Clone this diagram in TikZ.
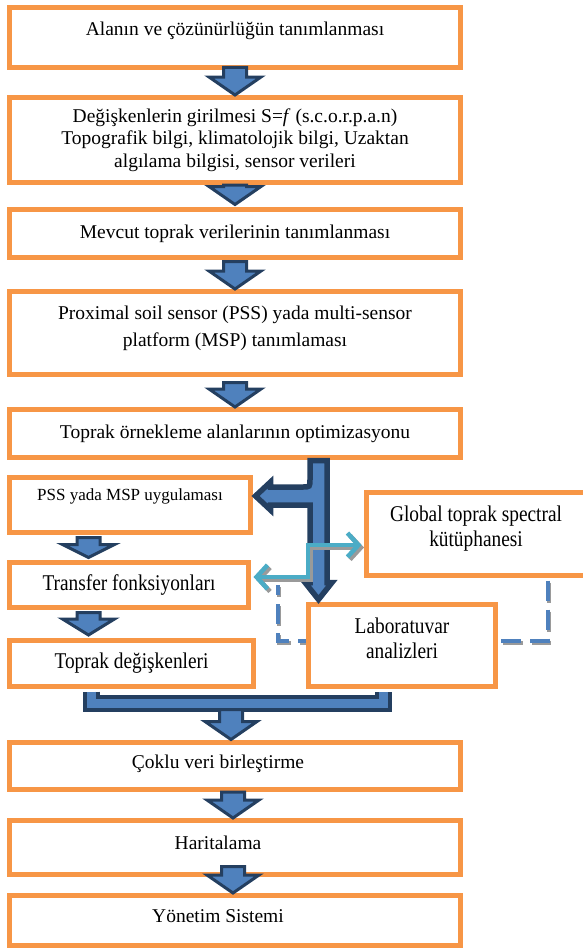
\documentclass[tikz,border=0pt]{standalone}
\usepackage{fontspec}
\setmainfont{Liberation Serif}
\newfontfamily\narrowserif{Liberation Serif}[FakeStretch=0.86]
\usepackage{tikz}
\usetikzlibrary{calc,arrows.meta,backgrounds}
\definecolor{BoxOrange}{HTML}{F79646}
\definecolor{ArrowFill}{HTML}{4F81BD}
\definecolor{ArrowLine}{HTML}{243F60}
\definecolor{LinkTeal}{HTML}{4BACC6}
\definecolor{ShadowGray}{HTML}{9A9A9A}

\newcommand{\mainsize}{\fontsize{19.5}{22.5}\selectfont}
\newcommand{\sidesize}{\narrowserif\fontsize{22.5}{25}\selectfont}
\newcommand{\psssize}{\fontsize{17}{20}\selectfont}

% flèche bloc vers le bas : [#1 longueur de tête], #2 départ, #3 pointe
\newcommand{\flowarrow}[3][18]{%
  \path #2 coordinate (fa-t0) #3 coordinate (fa-t1);
  \coordinate (fa-s) at (fa-t1 |- fa-t0);
  \draw[blockarrow] ($(fa-s)+(-11.5,0)$) -- ($(fa-s)+(11.5,0)$) -- ($(fa-t1)+(11.5,-#1)$)
    -- ($(fa-t1)+(26,-#1)$) -- (fa-t1) -- ($(fa-t1)+(-26,-#1)$) -- ($(fa-t1)+(-11.5,-#1)$) -- cycle;}

\begin{document}
\begin{tikzpicture}[x=1pt, y=-1pt,
    box/.style={draw=BoxOrange, line width=5pt, fill=white, align=center, inner sep=0pt, font=\mainsize},
    sidebox/.style={box, font=\sidesize},
    blockarrow/.style={fill=ArrowFill, draw=ArrowLine, line width=3pt, line join=miter},
    teallink/.style={LinkTeal, line width=4.5pt, line join=miter,
      arrows={Straight Barb[length=11pt,width=24pt]-Straight Barb[length=11pt,width=24pt]}},
    dashlink/.style={ArrowFill, line width=4pt, dash pattern=on 20pt off 9pt}]
  \useasboundingbox (0,0) rectangle (583,950);
  \clip (0,0) rectangle (583,950);

  % Colonne principale
  \node[box, minimum width=451pt, minimum height=60pt, text depth=18pt] (b1) at (235,37.5)
    {Alanın ve çözünürlüğün tanımlanması};
  \node[box, minimum width=451pt, minimum height=85pt] (b2) at (235,140)
    {Değişkenlerin girilmesi S=\textit{f} (s.c.o.r.p.a.n)\\Topografik bilgi, klimatolojik bilgi, Uzaktan\\algılama bilgisi, sensor verileri};
  \node[box, minimum width=451pt, minimum height=48pt] (b3) at (235,233.5)
    {Mevcut toprak verilerinin tanımlanması};
  \node[box, minimum width=451pt, minimum height=83pt, text depth=14pt] (b4) at (235,333)
    {Proximal soil sensor (PSS) yada multi-sensor\\[4.5pt]platform (MSP) tanımlaması};
  \node[box, minimum width=451pt, minimum height=48pt] (b5) at (235,433.5)
    {Toprak örnekleme alanlarının optimizasyonu};

  % Branches gauche et droite
  \node[box, font=\psssize, minimum width=241pt, minimum height=55pt, text depth=20pt] (pss) at (130,505)
    {PSS yada MSP uygulaması};
  \node[sidebox, minimum width=239pt, minimum height=45pt] (transfer) at (129,585)
    {Transfer fonksiyonları};
  \node[sidebox, minimum width=244pt, minimum height=46pt] (toprak) at (131.5,663.5)
    {Toprak değişkenleri};
  \node[sidebox, minimum width=219pt, minimum height=83pt, text depth=15pt] (global) at (476,534)
    {Global toprak spectral\\kütüphanesi};
  \node[sidebox, minimum width=187pt, minimum height=82pt, text depth=14pt] (lab) at (402,645.5)
    {Laboratuvar\\analizleri};

  % Bas du schéma
  \node[box, minimum width=451pt, minimum height=47pt, text depth=9pt] (coklu) at (235,766)
    {Çoklu veri birleştirme\hspace*{34pt}};
  \node[box, minimum width=451pt, minimum height=54pt, text depth=10pt] (harita) at (235,847.5)
    {Haritalama\hspace*{34pt}};
  \node[box, minimum width=451pt, minimum height=50pt, text depth=9pt] (yonetim) at (235,920.5)
    {Yönetim Sistemi\hspace*{34pt}};

  % Liaison en pointillés (derrière le labo)
  \begin{scope}[on background layer]
    \coordinate (gd) at ($(global.south east)+(-40.5,2.5)$);
    \coordinate (dlow) at ($(lab.east)+(0,-4.5)$);
    \coordinate (dend) at ($(transfer.east)+(26.5,0)$);
    \draw[dashlink, ShadowGray, transform canvas={xshift=1.5pt, yshift=-2pt}] (gd) |- (dlow) -| (dend);
    \draw[dashlink] (gd) |- (dlow) -| (dend);
  \end{scope}

  % Flèches blocs
  \flowarrow{($(b1.south)+(0,-2.5)$)}{(b2.north)}
  \flowarrow{(b2.south)}{($(b3.north)+(0,-2.5)$)}
  \flowarrow{($(b3.south)+(0,1.5)$)}{(b4.north)}
  \flowarrow{($(b4.south)+(0,5.5)$)}{(b5.north)}
  \flowarrow[13]{($(pss.south)+(-41.5,2.5)$)}{($(transfer.north)+(-40.5,-2.5)$)}
  \flowarrow[16]{($(transfer.south)+(-40.5,2.5)$)}{($(toprak.north)+(-43,-3)$)}
  \flowarrow{(coklu.south)}{($(harita.north)+(-2,0)$)}
  \flowarrow{($(harita.south)+(0,-10.5)$)}{($(yonetim.north)+(-2,0)$)}

  % Regroupement vers la fusion
  \coordinate (barL) at ($(toprak.south)+(-40.5,2.5)$);
  \coordinate (barR) at ($(lab.south)+(-19,2.5)$);
  \coordinate (merge) at ($(coklu.north)+(-4,-36.5)$);
  \draw[ArrowLine, line width=17pt, line join=miter] (barL) -- (barL |- merge) -- (barR |- merge) -- (barR);
  \draw[ArrowFill, line width=9pt, line join=miter] (barL) -- (barL |- merge) -- (barR |- merge) -- (barR);
  \flowarrow{($(merge)+(0,6)$)}{($(coklu.north)+(-4,-0.5)$)}

  % Tronc vers le labo, branche vers PSS
  \coordinate (split) at ($(b5.south)+(83.5,0.5)$);
  \coordinate (tip) at ($(split |- lab.north)+(0,-2.5)$);
  \coordinate (btip) at ($(pss.east)+(2.5,-9)$);
  \draw[blockarrow, line width=5.5pt] ($(split)+(8.5,0)$) -- ($(tip)+(8.5,-17)$) -- ($(tip)+(13.5,-17)$) -- (tip)
    -- ($(tip)+(-13.5,-17)$) -- ($(tip)+(-8.5,-17)$) -- ($(split |- btip)+(-8.5,9)$)
    -- ($(btip)+(15,9)$) -- ($(btip)+(15,14)$) -- (btip) -- ($(btip)+(15,-14)$) -- ($(btip)+(15,-9)$)
    -- ($(split |- btip)+(-16,-9)$) .. controls ($(split |- btip)+(-8.5,-9)$) .. ($(split |- btip)+(-8.5,-17)$)
    -- ($(split)+(-8.5,0)$) -- cycle;

  % Liaison double turquoise
  \coordinate (tl) at ($(transfer.east)+(2.5,-8)$);
  \coordinate (tr) at ($(global.west)+(-2.5,11)$);
  \coordinate (tbend) at ($(split)+(-10.5,0)$);
  \draw[teallink, ShadowGray, transform canvas={xshift=2.5pt, yshift=-2.5pt}] (tl) -- (tl -| tbend) |- (tr);
  \draw[teallink] (tl) -- (tl -| tbend) |- (tr);
\end{tikzpicture}
\end{document}
